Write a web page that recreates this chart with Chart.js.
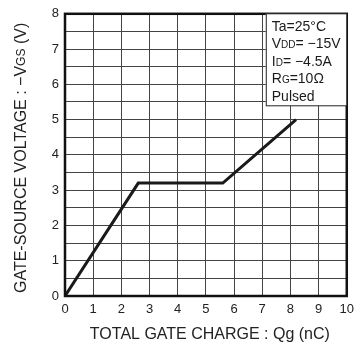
<!DOCTYPE html>
<html>
<head>
<meta charset="utf-8">
<script src="https://cdn.jsdelivr.net/npm/chart.js@4"></script>
<style>
  html, body { margin: 0; padding: 0; background: #fff; }
  #wrap { width: 360px; height: 348px; }
</style>
</head>
<body>
<div id="wrap"><canvas id="gateChart" width="360" height="348"></canvas></div>
<script>
// data
const qg = [0, 2.6, 5.6, 8.2];      // nC
const vgs = [0, 3.2, 3.2, 5.0];     // -V
const xTicks = [0, 1, 2, 3, 4, 5, 6, 7, 8, 9, 10];
const yTicks = [0, 1, 2, 3, 4, 5, 6, 7, 8];

// condition box lines: [text, subscript, rest]
const conditions = [
  ['Ta=25°C', '', ''],
  ['V', 'DD', '= \u221215V'],
  ['I', 'D', '= \u22124.5A'],
  ['R', 'G', '=10\u03a9'],
  ['Pulsed', '', '']
];

const FONT = '"Liberation Sans", Arial, sans-serif';

let points = [];
for (let i = 0; i < qg.length; i++) {
  points.push({x: qg[i], y: vgs[i]});
}

function drawSub(ctx, x, y, main, sub, rest, size) {
  ctx.font = size + 'px ' + FONT;
  ctx.fillText(main, x, y);
  x += ctx.measureText(main).width;
  if (sub) {
    ctx.font = Math.round(size * 0.72) + 'px ' + FONT;
    ctx.fillText(sub, x, y);
    x += ctx.measureText(sub).width;
  }
  ctx.font = size + 'px ' + FONT;
  if (rest) ctx.fillText(rest, x, y);
}

function subWidth(ctx, main, sub, rest, size) {
  ctx.font = size + 'px ' + FONT;
  let w = ctx.measureText(main).width + ctx.measureText(rest).width;
  ctx.font = Math.round(size * 0.72) + 'px ' + FONT;
  return w + ctx.measureText(sub).width;
}

const extras = {
  id: 'extras',
  afterDraw(chart) {
    const ctx = chart.ctx;
    const a = chart.chartArea;
    ctx.save();

    // frame
    ctx.strokeStyle = '#111';
    ctx.lineWidth = 2.5;
    ctx.strokeRect(a.left, a.top, a.right - a.left, a.bottom - a.top);

    // condition box
    const bw = 81, bh = 92;
    const bx = a.right - bw;
    ctx.fillStyle = '#fff';
    ctx.fillRect(bx, a.top, bw, bh);
    ctx.lineWidth = 1;
    ctx.strokeStyle = '#222';
    ctx.strokeRect(bx + 0.5, a.top, bw - 0.5, bh);
    ctx.fillStyle = '#1a1a1a';
    ctx.textBaseline = 'alphabetic';
    ctx.textAlign = 'left';
    for (let i = 0; i < conditions.length; i++) {
      const c = conditions[i];
      drawSub(ctx, bx + 6, a.top + 17 + i * 17.5, c[0], c[1], c[2], 14);
    }

    // x title
    ctx.font = '16px ' + FONT;
    ctx.fillStyle = '#222';
    ctx.textAlign = 'center';
    ctx.textBaseline = 'middle';
    ctx.fillText('TOTAL GATE CHARGE : Qg (nC)', (a.left + a.right) / 2 + 4, 335);

    // y title with subscript
    ctx.translate(22, (a.top + a.bottom) / 2 + 3);
    ctx.rotate(-Math.PI / 2);
    ctx.textAlign = 'left';
    ctx.textBaseline = 'middle';
    const w = subWidth(ctx, 'GATE-SOURCE VOLTAGE : \u2212V', 'GS', ' (V)', 16);
    drawSub(ctx, -w / 2, 0, 'GATE-SOURCE VOLTAGE : \u2212V', 'GS', ' (V)', 16);

    ctx.restore();
  }
};

let ctx = document.getElementById('gateChart').getContext('2d');

let gateChart = new Chart(ctx, {
  type: 'line',
  data: {
    datasets: [{
      data: points,
      borderColor: '#1a1a1a',
      borderWidth: 3,
      pointRadius: 0,
      fill: false,
      tension: 0
    }]
  },
  options: {
    responsive: false,
    animation: false,
    layout: { padding: { left: 0, right: 10, top: 11, bottom: 0 } },
    plugins: {
      legend: { display: false },
      tooltip: { enabled: false }
    },
    scales: {
      x: {
        type: 'linear',
        min: 0,
        max: 10,
        afterFit: function(s) { s.height = 52; },
        afterBuildTicks: function(s) {
          s.ticks = xTicks.map(v => ({value: v}));
        },
        ticks: {
          color: '#222',
          padding: 6,
          maxRotation: 0,
          font: { family: FONT, size: 13 }
        },
        grid: { color: '#444', lineWidth: 1, drawTicks: false },
        border: { display: false }
      },
      y: {
        min: 0,
        max: 8,
        afterFit: function(s) { s.width = 65; },
        ticks: {
          stepSize: 0.5,
          autoSkip: false,
          color: '#222',
          padding: 6,
          font: { family: FONT, size: 13 },
          callback: function(v) { return yTicks.includes(v) ? v : ''; }
        },
        grid: { color: '#444', lineWidth: 1, drawTicks: false },
        border: { display: false }
      }
    }
  },
  plugins: [extras]
});
</script>
</body>
</html>
